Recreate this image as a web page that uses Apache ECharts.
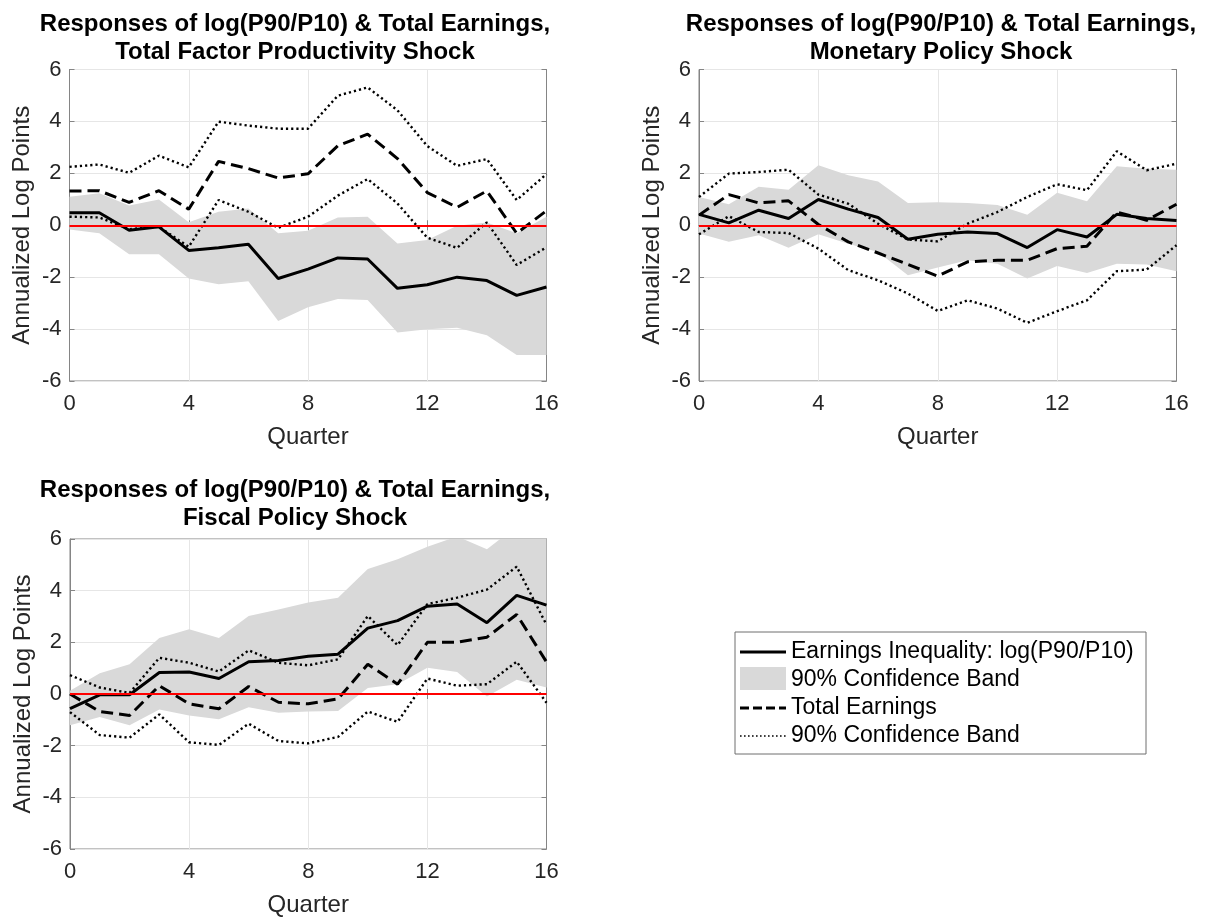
<!DOCTYPE html>
<html><head><meta charset="utf-8">
<script src="https://cdn.jsdelivr.net/npm/echarts@6/dist/echarts.min.js"></script>
<style>html,body{margin:0;padding:0;background:#fff}#c{width:1215px;height:918px}</style>
</head><body><div id="c"></div>
<script>
// ---------- data ----------
const quarters = ['0','1','2','3','4','5','6','7','8','9','10','11','12','13','14','15','16'];

const titleLine1 = 'Responses of log(P90/P10) & Total Earnings,';
const shockNames = ['Total Factor Productivity Shock', 'Monetary Policy Shock', 'Fiscal Policy Shock'];
const yAxisName = 'Annualized Log Points';
const xAxisName = 'Quarter';
const legendLabels = ['Earnings Inequality: log(P90/P10)', '90% Confidence Band', 'Total Earnings', '90% Confidence Band'];

// TFP shock
const tfpIneq   = [0.48, 0.48, -0.19, -0.06, -0.97, -0.87, -0.73, -2.05, -1.69, -1.26, -1.30, -2.43, -2.29, -2.00, -2.13, -2.70, -2.38];
const tfpIneqLo = [-0.16, -0.31, -1.12, -1.12, -2.05, -2.27, -2.16, -3.69, -3.16, -2.84, -2.88, -4.13, -4.01, -3.95, -4.24, -5.00, -5.00];
const tfpIneqHi = [1.10, 1.23, 0.76, 0.99, 0.12, 0.52, 0.65, -0.31, -0.21, 0.30, 0.33, -0.70, -0.57, -0.02, 0.11, -0.31, 0.33];
const tfpEarn   = [1.32, 1.33, 0.88, 1.33, 0.62, 2.46, 2.18, 1.82, 1.98, 3.06, 3.51, 2.57, 1.26, 0.69, 1.32, -0.31, 0.56];
const tfpEarnLo = [0.33, 0.30, -0.15, -0.06, -0.83, 0.97, 0.52, -0.10, 0.33, 1.14, 1.78, 0.84, -0.48, -0.87, 0.11, -1.53, -0.85];
const tfpEarnHi = [2.25, 2.34, 2.02, 2.68, 2.23, 3.99, 3.84, 3.72, 3.72, 4.99, 5.31, 4.43, 3.05, 2.29, 2.55, 0.97, 1.97];

// Monetary policy shock
const mpIneq   = [0.42, 0.09, 0.58, 0.26, 0.99, 0.62, 0.30, -0.54, -0.35, -0.26, -0.32, -0.86, -0.17, -0.45, 0.42, 0.26, 0.18];
const mpIneqLo = [-0.32, -0.64, -0.39, -0.87, -0.35, -0.71, -1.03, -1.93, -1.63, -1.35, -1.48, -2.05, -1.57, -1.84, -1.48, -1.51, -1.77];
const mpIneqHi = [1.09, 0.81, 1.48, 1.37, 2.31, 1.93, 1.69, 0.86, 0.89, 0.86, 0.78, 0.40, 1.25, 0.92, 2.27, 2.18, 2.14];
const mpEarn   = [0.39, 1.18, 0.86, 0.94, 0.03, -0.64, -1.07, -1.51, -1.96, -1.41, -1.35, -1.35, -0.90, -0.81, 0.51, 0.19, 0.81];
const mpEarnLo = [-0.35, 0.35, -0.26, -0.30, -0.90, -1.73, -2.12, -2.63, -3.30, -2.89, -3.21, -3.76, -3.31, -2.89, -1.77, -1.71, -0.77];
const mpEarnHi = [1.09, 1.99, 2.05, 2.14, 1.18, 0.83, 0.06, -0.55, -0.62, 0.06, 0.51, 1.09, 1.58, 1.35, 2.85, 2.12, 2.37];

// Fiscal policy shock
const fpIneq   = [-0.57, -0.03, -0.03, 0.83, 0.85, 0.60, 1.25, 1.30, 1.46, 1.54, 2.55, 2.84, 3.40, 3.48, 2.76, 3.82, 3.44];
const fpIneqLo = [-1.21, -0.89, -1.21, -0.60, -0.83, -0.98, -0.51, -0.73, -0.68, -0.66, 0.23, 0.38, 1.02, 0.85, -0.10, 0.55, 0.25];
const fpIneqHi = [0.13, 0.80, 1.15, 2.17, 2.51, 2.17, 3.02, 3.27, 3.54, 3.73, 4.84, 5.22, 5.70, 6.10, 5.60, 6.50, 6.50];
const fpEarn   = [0.00, -0.68, -0.83, 0.32, -0.38, -0.57, 0.29, -0.32, -0.38, -0.19, 1.15, 0.38, 2.00, 2.00, 2.20, 3.08, 1.24];
const fpEarnLo = [-0.70, -1.59, -1.69, -0.79, -1.87, -1.97, -1.15, -1.82, -1.91, -1.66, -0.68, -1.08, 0.60, 0.32, 0.38, 1.25, -0.34];
const fpEarnHi = [0.73, 0.25, 0.04, 1.40, 1.21, 0.87, 1.69, 1.21, 1.11, 1.34, 3.02, 1.89, 3.48, 3.73, 4.04, 4.93, 2.68];

const panels = [
  {ineq: tfpIneq, lo: tfpIneqLo, hi: tfpIneqHi, earn: tfpEarn, elo: tfpEarnLo, ehi: tfpEarnHi},
  {ineq: mpIneq, lo: mpIneqLo, hi: mpIneqHi, earn: mpEarn, elo: mpEarnLo, ehi: mpEarnHi},
  {ineq: fpIneq, lo: fpIneqLo, hi: fpIneqHi, earn: fpEarn, elo: fpEarnLo, ehi: fpEarnHi}
];

// ---------- layout / style ----------
const FONT = '"Liberation Sans", Arial, Helvetica, sans-serif';
const grids = [
  {left: 69.5, top: 69.5, width: 477, height: 311.5},
  {left: 699, top: 69.5, width: 477.5, height: 311.5},
  {left: 70, top: 539, width: 476.5, height: 312}
];
const titleCenters = [290, 936, 290];
const titleTops = [5, 5, 471];
const AXC = '#858585';
const GRIDC = '#e6e6e6';
const BAND = '#d9d9d9';

const option = {
  backgroundColor: '#ffffff',
  animation: false,
  title: grids.map((g, i) => ({
    text: titleLine1 + '\n' + shockNames[i],
    left: titleCenters[i],
    top: titleTops[i],
    textAlign: 'center',
    textStyle: {fontFamily: FONT, fontSize: 24, fontWeight: 'bold', color: '#000', lineHeight: 28.5}
  })),
  grid: grids.map(g => Object.assign({show: true, borderColor: AXC, borderWidth: 1, backgroundColor: 'transparent'}, g)),
  xAxis: [],
  yAxis: [],
  series: [],
  graphic: []
};

grids.forEach((g, i) => {
  option.xAxis.push({
    type: 'category', gridIndex: i, data: quarters, boundaryGap: false,
    name: xAxisName, nameLocation: 'middle', nameGap: 44,
    nameTextStyle: {fontFamily: FONT, fontSize: 24, color: '#262626'},
    axisLine: {show: true, lineStyle: {color: AXC, width: 1}},
    axisTick: {show: true, inside: true, length: 5, interval: 3, lineStyle: {color: AXC}},
    axisLabel: {interval: 3, margin: 12, fontFamily: FONT, fontSize: 22, color: '#262626'},
    splitLine: {show: true, interval: 3, lineStyle: {color: GRIDC, width: 1}}
  });
  option.xAxis.push({
    type: 'category', gridIndex: i, data: quarters, boundaryGap: false, position: 'top',
    axisLine: {show: true, lineStyle: {color: AXC, width: 1}},
    axisTick: {show: true, inside: true, length: 5, interval: 3, lineStyle: {color: AXC}},
    axisLabel: {show: false}, splitLine: {show: false}
  });
  option.yAxis.push({
    type: 'value', gridIndex: i, min: -6, max: 6, interval: 2,
    name: yAxisName, nameLocation: 'middle', nameGap: 35,
    nameTextStyle: {fontFamily: FONT, fontSize: 24, color: '#262626'},
    axisLine: {show: true, lineStyle: {color: AXC, width: 1}},
    axisTick: {show: true, inside: true, length: 5, lineStyle: {color: AXC}},
    axisLabel: {margin: 8, fontFamily: FONT, fontSize: 22, color: '#262626'},
    splitLine: {show: true, lineStyle: {color: GRIDC, width: 1}}
  });
  option.yAxis.push({
    type: 'value', gridIndex: i, min: -6, max: 6, interval: 2, position: 'right',
    axisLine: {show: true, lineStyle: {color: AXC, width: 1}},
    axisTick: {show: true, inside: true, length: 5, lineStyle: {color: AXC}},
    axisLabel: {show: false}, splitLine: {show: false}
  });

  const p = panels[i];
  const xi = i * 2, yi = i * 2;
  const base = {type: 'line', xAxisIndex: xi, yAxisIndex: yi, symbol: 'none', silent: true, clip: true};
  option.series.push(Object.assign({}, base, {
    stack: 'band' + i, stackStrategy: 'all', data: p.lo.slice(),
    lineStyle: {opacity: 0, width: 0}, z: 1
  }));
  option.series.push(Object.assign({}, base, {
    stack: 'band' + i, stackStrategy: 'all', data: p.hi.map((v, k) => +(v - p.lo[k]).toFixed(3)),
    lineStyle: {opacity: 0, width: 0}, areaStyle: {color: BAND, opacity: 1}, z: 1
  }));
  option.series.push(Object.assign({}, base, {
    data: p.ineq, lineStyle: {color: '#000', width: 3, type: 'solid'}, z: 3
  }));
  option.series.push(Object.assign({}, base, {
    data: p.earn, lineStyle: {color: '#000', width: 3, type: [12, 6]}, z: 3
  }));
  option.series.push(Object.assign({}, base, {
    data: p.elo, lineStyle: {color: '#000', width: 2.4, type: [2.2, 3]}, z: 3
  }));
  option.series.push(Object.assign({}, base, {
    data: p.ehi, lineStyle: {color: '#000', width: 2.4, type: [2.2, 3]}, z: 3,
    markLine: {
      silent: true, symbol: ['none', 'none'], label: {show: false},
      lineStyle: {color: '#ff0000', width: 2, type: 'solid'},
      data: [{yAxis: 0}]
    }
  }));
});

// legend box (bottom right)
const LX = 735, LY = 632, LW = 411, LH = 122;
const rowY = [652, 680, 708, 736];
option.graphic.push({type: 'rect', shape: {x: LX, y: LY, width: LW, height: LH},
  style: {fill: '#fff', stroke: '#6e6e6e', lineWidth: 1}});
option.graphic.push({type: 'line', shape: {x1: 740, y1: rowY[0], x2: 786, y2: rowY[0]},
  style: {stroke: '#000', lineWidth: 3}});
option.graphic.push({type: 'rect', shape: {x: 740, y: 667, width: 46, height: 23},
  style: {fill: BAND}});
option.graphic.push({type: 'line', shape: {x1: 740, y1: rowY[2], x2: 786, y2: rowY[2]},
  style: {stroke: '#000', lineWidth: 3, lineDash: [9, 4]}});
option.graphic.push({type: 'line', shape: {x1: 740, y1: rowY[3], x2: 786, y2: rowY[3]},
  style: {stroke: '#000', lineWidth: 1.6, lineDash: [1.6, 2.4]}});
legendLabels.forEach((t, k) => {
  option.graphic.push({type: 'text', x: 791, y: rowY[k],
    style: {text: t, font: '23px ' + FONT, fill: '#000', textVerticalAlign: 'middle', verticalAlign: 'middle'}});
});

const chart = echarts.init(document.getElementById('c'), null, {renderer: 'canvas'});
chart.setOption(option);
</script></body></html>
